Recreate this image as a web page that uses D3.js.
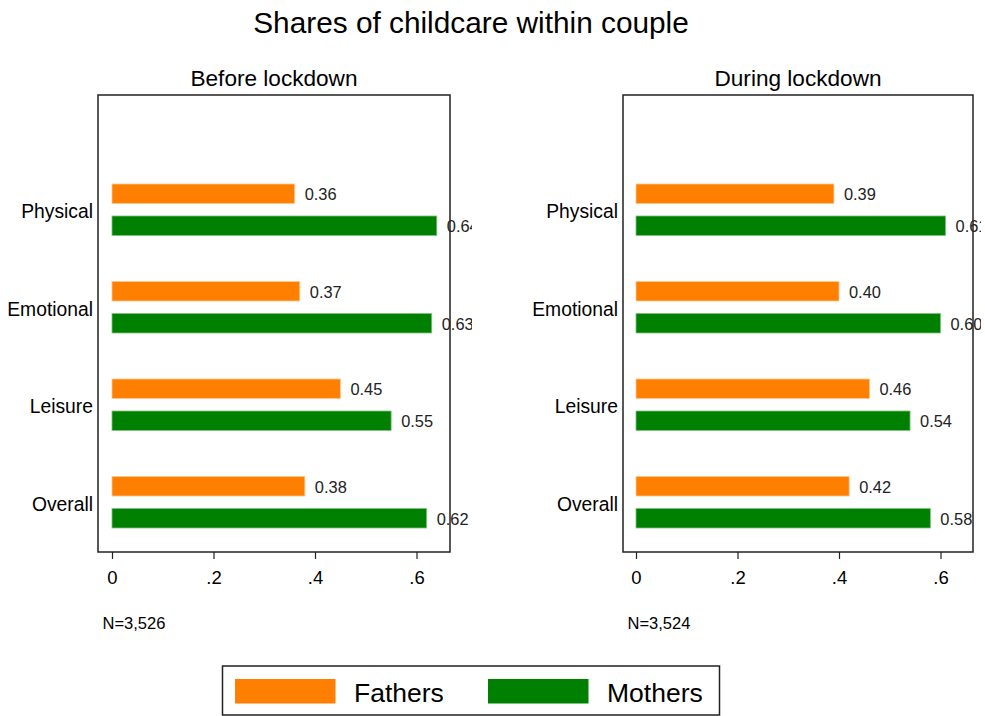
<!DOCTYPE html>
<html><head><meta charset="utf-8">
<script src="https://cdn.jsdelivr.net/npm/d3@7"></script>
<style>body{margin:0;background:#fff;font-family:Arial,"Liberation Sans",sans-serif}</style>
</head><body><svg id="c" width="985" height="716"></svg>
<script>
const categories = ["Physical","Emotional","Leisure","Overall"];
const panels = ["Before lockdown","During lockdown"];
const fathersBefore = [0.36,0.37,0.45,0.38];
const mothersBefore = [0.64,0.63,0.55,0.62];
const fathersDuring = [0.39,0.40,0.46,0.42];
const mothersDuring = [0.61,0.60,0.54,0.58];
const notes = ["N=3,526","N=3,524"];
const ticks = [0,0.2,0.4,0.6];
const tickLabels = ["0",".2",".4",".6"];
const seriesNames = ["Fathers","Mothers"];
const colors = ["#FF7F00","#008000"];

const svg = d3.select("#c");
const font = "Arial, 'Liberation Sans', sans-serif";
svg.append("text").attr("x",471).attr("y",33).attr("text-anchor","middle")
  .attr("font-size",29.8).attr("font-family",font).text("Shares of childcare within couple");

const panelData = [[fathersBefore,mothersBefore],[fathersDuring,mothersDuring]];
const boxes = [{x0:98,x1:450,zero:112,clip:472},{x0:623,x1:973,zero:636,clip:981}];
const plotTop=95, plotBottom=552;
const ppu = 507.5;

boxes.forEach((b,pi)=>{
  const g = svg.append("g");
  const x = d3.scaleLinear().domain([0,1]).range([b.zero,b.zero+ppu]);
  const y = d3.scaleBand().domain(categories).range([163,553]).paddingInner(0).paddingOuter(0);
  const clipId = "clip"+pi;
  svg.append("clipPath").attr("id",clipId).append("rect")
    .attr("x",b.x0).attr("y",plotTop).attr("width",b.clip-b.x0).attr("height",plotBottom-plotTop);
  g.append("text").attr("x",(b.x0+b.x1)/2).attr("y",86).attr("text-anchor","middle")
    .attr("font-size",22.6).attr("font-family",font).text(panels[pi]);
  const inner = g.append("g").attr("clip-path",`url(#${clipId})`);
  const barH = 19.5;
  const offs = [21, 53];
  const strokes = ["#ffc890","#7fbf7f"];
  panelData[pi].forEach((vals,si)=>{
    inner.selectAll(null).data(vals).enter().append("rect")
      .attr("x",x(0)).attr("y",(d,i)=>y(categories[i])+offs[si])
      .attr("width",d=>x(d)-x(0)).attr("height",barH)
      .attr("fill",colors[si]).attr("stroke",strokes[si]).attr("stroke-width",0.8);
    inner.selectAll(null).data(vals).enter().append("text")
      .attr("x",d=>x(d)+10).attr("y",(d,i)=>y(categories[i])+offs[si]+barH/2+6.5)
      .attr("font-size",16.4).attr("font-family",font).attr("fill","#222")
      .text(d=>d3.format(".2f")(d));
  });
  g.selectAll(null).data(categories).enter().append("text")
    .attr("x",b.x0-5).attr("y",c=>y(c)+55).attr("text-anchor","end")
    .attr("font-size",19.3).attr("font-family",font).text(c=>c);
  g.append("rect").attr("x",b.x0).attr("y",plotTop).attr("width",b.x1-b.x0).attr("height",plotBottom-plotTop)
    .attr("fill","none").attr("stroke","#222").attr("stroke-width",1.5);
  const ax = g.append("g").attr("transform",`translate(0,${plotBottom})`)
    .call(d3.axisBottom(x).tickValues(ticks).tickFormat((d,i)=>tickLabels[i]).tickSizeOuter(0).tickSize(7).tickPadding(12));
  ax.select(".domain").remove();
  ax.selectAll("line").attr("stroke","#222").attr("stroke-width",1.2);
  ax.selectAll("text").attr("font-size",18.5).attr("font-family",font).attr("fill","#000");
  g.append("text").attr("x",b.x0+4.5).attr("y",629).attr("font-size",16.5).attr("font-family",font).text(notes[pi]);
});

// legend
const lg = svg.append("g");
lg.append("rect").attr("x",222.5).attr("y",666).attr("width",497).attr("height",49)
  .attr("fill","#fff").attr("stroke","#222").attr("stroke-width",1.5);
const legX = d3.scalePoint().domain(seriesNames).range([235,488]);
seriesNames.forEach((s,i)=>{
  lg.append("rect").attr("x",legX(s)).attr("y",679).attr("width",100.5).attr("height",24.5).attr("fill",colors[i]);
  lg.append("text").attr("x",legX(s)+119).attr("y",702).attr("font-size",26.5).attr("font-family",font).text(s);
});
</script></body></html>
